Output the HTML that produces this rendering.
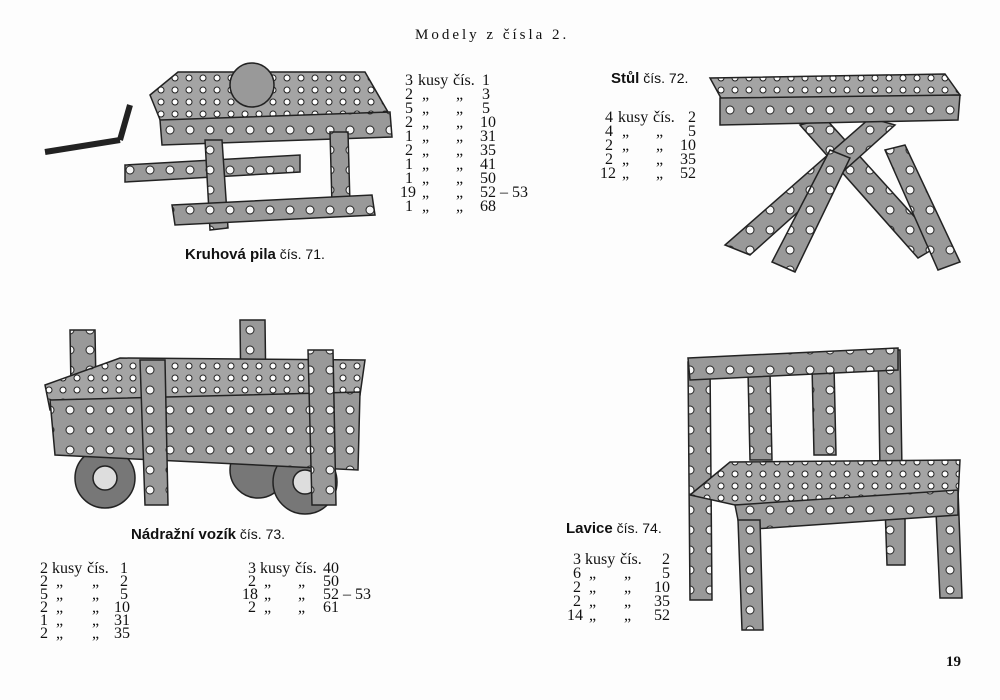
<!DOCTYPE html>
<html><head><meta charset="utf-8"><style>
body{margin:0;background:#fff}
#p{position:relative;width:1000px;height:700px;overflow:hidden;background:#fdfdfd;font-family:"Liberation Serif",serif;color:#111}
.t{position:absolute;font-size:15px;line-height:15px;white-space:nowrap}
.r{position:absolute;font-size:16px;line-height:15px;width:200px}
.r span{position:absolute;top:0;white-space:nowrap}
.c{font-family:"Liberation Sans",sans-serif;font-size:14px;position:absolute;white-space:nowrap}
.c b{font-size:15px}
svg{position:absolute;left:0;top:0}
</style></head><body><div id="p">
<svg width="1000" height="700">
<defs>
<pattern id="h" width="14" height="12" patternUnits="userSpaceOnUse"><rect width="14" height="12" fill="#a4a4a4"/><circle cx="7" cy="6" r="3" fill="#fff" stroke="#222" stroke-width="1"/></pattern>
<pattern id="s" width="20" height="20" patternUnits="userSpaceOnUse"><rect width="20" height="20" fill="#999"/><circle cx="10" cy="10" r="4" fill="#f4f4f4" stroke="#222"/></pattern>
</defs>
<g stroke="#222" stroke-width="1.5">
<line x1="45" y1="152" x2="120" y2="140" stroke-width="6"/>
<line x1="120" y1="140" x2="130" y2="105" stroke-width="6"/>
<polygon points="125,165 300,155 300,172 125,182" fill="url(#s)"/>
<polygon points="150,95 178,72 365,72 388,112 165,132" fill="url(#h)"/>
<polygon points="160,120 390,112 392,137 162,145" fill="url(#s)"/>
<circle cx="252" cy="85" r="22" fill="#999"/>
<polygon points="205,140 222,140 228,228 210,230" fill="url(#s)"/>
<polygon points="330,132 348,132 350,205 332,205" fill="url(#s)"/>
<polygon points="172,205 372,195 375,215 175,225" fill="url(#s)"/>
<polygon points="800,125 825,118 940,245 918,258" fill="url(#s)"/>
<polygon points="870,118 895,125 750,255 725,245" fill="url(#s)"/>
<polygon points="830,150 850,158 795,272 772,262" fill="url(#s)"/>
<polygon points="885,150 905,145 960,262 938,270" fill="url(#s)"/>
<polygon points="710,78 945,74 960,95 722,100" fill="url(#h)"/>
<polygon points="720,98 960,95 958,120 720,125" fill="url(#s)"/>
<polygon points="70,330 95,330 97,445 72,445" fill="url(#s)"/>
<polygon points="240,320 265,320 266,400 241,400" fill="url(#s)"/>
<circle cx="105" cy="478" r="30" fill="#777"/><circle cx="105" cy="478" r="12" fill="#ddd"/>
<circle cx="258" cy="470" r="28" fill="#777"/>
<circle cx="305" cy="482" r="32" fill="#777"/><circle cx="305" cy="482" r="12" fill="#ddd"/>
<polygon points="45,385 120,358 365,360 360,395 50,410" fill="url(#h)"/>
<polygon points="50,400 360,392 358,470 55,455" fill="url(#s)"/>
<polygon points="140,360 165,360 168,505 145,505" fill="url(#s)"/>
<polygon points="308,350 333,350 336,505 312,505" fill="url(#s)"/>
<polygon points="688,362 710,362 712,600 690,600" fill="url(#s)"/>
<polygon points="878,350 900,350 902,470 880,470" fill="url(#s)"/>
<polygon points="748,372 770,372 772,460 750,460" fill="url(#s)"/>
<polygon points="812,365 834,365 836,455 814,455" fill="url(#s)"/>
<polygon points="688,358 898,348 898,370 690,380" fill="url(#s)"/>
<polygon points="885,505 905,505 905,565 887,565" fill="url(#s)"/>
<polygon points="935,490 958,490 962,598 940,598" fill="url(#s)"/>
<polygon points="690,495 730,462 960,460 958,498 735,505" fill="url(#h)"/>
<polygon points="735,505 958,490 958,515 740,530" fill="url(#s)"/>
<polygon points="738,520 760,520 763,630 742,630" fill="url(#s)"/>
</g>
</svg>
<div class="t" style="left:415px;top:28px;font-size:15px;letter-spacing:3px">Modely z čísla 2.</div>

<div style="position:absolute;left:400px;top:73px">
<div class="r" style="top:0"><span style="left:5px">3</span><span style="left:18px">kusy</span><span style="left:53px">čís.</span><span style="left:82px">1</span></div>
<div class="r" style="top:14px"><span style="left:5px">2</span><span style="left:22px">„</span><span style="left:56px">„</span><span style="left:82px">3</span></div>
<div class="r" style="top:28px"><span style="left:5px">5</span><span style="left:22px">„</span><span style="left:56px">„</span><span style="left:82px">5</span></div>
<div class="r" style="top:42px"><span style="left:5px">2</span><span style="left:22px">„</span><span style="left:56px">„</span><span style="left:80px">10</span></div>
<div class="r" style="top:56px"><span style="left:5px">1</span><span style="left:22px">„</span><span style="left:56px">„</span><span style="left:80px">31</span></div>
<div class="r" style="top:70px"><span style="left:5px">2</span><span style="left:22px">„</span><span style="left:56px">„</span><span style="left:80px">35</span></div>
<div class="r" style="top:84px"><span style="left:5px">1</span><span style="left:22px">„</span><span style="left:56px">„</span><span style="left:80px">41</span></div>
<div class="r" style="top:98px"><span style="left:5px">1</span><span style="left:22px">„</span><span style="left:56px">„</span><span style="left:80px">50</span></div>
<div class="r" style="top:112px"><span style="left:0px">19</span><span style="left:22px">„</span><span style="left:56px">„</span><span style="left:80px">52 – 53</span></div>
<div class="r" style="top:126px"><span style="left:5px">1</span><span style="left:22px">„</span><span style="left:56px">„</span><span style="left:80px">68</span></div>
</div>

<div class="c" style="left:611px;top:70px"><b>Stůl</b> čís. 72.</div>
<div style="position:absolute;left:600px;top:110px">
<div class="r" style="top:0"><span style="left:5px">4</span><span style="left:18px">kusy</span><span style="left:53px">čís.</span><span style="left:88px">2</span></div>
<div class="r" style="top:14px"><span style="left:5px">4</span><span style="left:22px">„</span><span style="left:56px">„</span><span style="left:88px">5</span></div>
<div class="r" style="top:28px"><span style="left:5px">2</span><span style="left:22px">„</span><span style="left:56px">„</span><span style="left:80px">10</span></div>
<div class="r" style="top:42px"><span style="left:5px">2</span><span style="left:22px">„</span><span style="left:56px">„</span><span style="left:80px">35</span></div>
<div class="r" style="top:56px"><span style="left:0px">12</span><span style="left:22px">„</span><span style="left:56px">„</span><span style="left:80px">52</span></div>
</div>

<div class="c" style="left:185px;top:246px"><b>Kruhová pila</b> čís. 71.</div>
<div class="c" style="left:131px;top:526px"><b>Nádražní vozík</b> čís. 73.</div>

<div style="position:absolute;left:38px;top:561px">
<div class="r" style="top:0"><span style="left:2px">2</span><span style="left:14px">kusy</span><span style="left:49px">čís.</span><span style="left:82px">1</span></div>
<div class="r" style="top:13px"><span style="left:2px">2</span><span style="left:18px">„</span><span style="left:54px">„</span><span style="left:82px">2</span></div>
<div class="r" style="top:26px"><span style="left:2px">5</span><span style="left:18px">„</span><span style="left:54px">„</span><span style="left:82px">5</span></div>
<div class="r" style="top:39px"><span style="left:2px">2</span><span style="left:18px">„</span><span style="left:54px">„</span><span style="left:76px">10</span></div>
<div class="r" style="top:52px"><span style="left:2px">1</span><span style="left:18px">„</span><span style="left:54px">„</span><span style="left:76px">31</span></div>
<div class="r" style="top:65px"><span style="left:2px">2</span><span style="left:18px">„</span><span style="left:54px">„</span><span style="left:76px">35</span></div>
</div>
<div style="position:absolute;left:240px;top:561px">
<div class="r" style="top:0"><span style="left:8px">3</span><span style="left:20px">kusy</span><span style="left:55px">čís.</span><span style="left:83px">40</span></div>
<div class="r" style="top:13px"><span style="left:8px">2</span><span style="left:24px">„</span><span style="left:58px">„</span><span style="left:83px">50</span></div>
<div class="r" style="top:26px"><span style="left:2px">18</span><span style="left:24px">„</span><span style="left:58px">„</span><span style="left:83px">52 – 53</span></div>
<div class="r" style="top:39px"><span style="left:8px">2</span><span style="left:24px">„</span><span style="left:58px">„</span><span style="left:83px">61</span></div>
</div>

<div class="c" style="left:566px;top:520px"><b>Lavice</b> čís. 74.</div>
<div style="position:absolute;left:567px;top:552px">
<div class="r" style="top:0"><span style="left:6px">3</span><span style="left:18px">kusy</span><span style="left:53px">čís.</span><span style="left:95px">2</span></div>
<div class="r" style="top:14px"><span style="left:6px">6</span><span style="left:22px">„</span><span style="left:57px">„</span><span style="left:95px">5</span></div>
<div class="r" style="top:28px"><span style="left:6px">2</span><span style="left:22px">„</span><span style="left:57px">„</span><span style="left:87px">10</span></div>
<div class="r" style="top:42px"><span style="left:6px">2</span><span style="left:22px">„</span><span style="left:57px">„</span><span style="left:87px">35</span></div>
<div class="r" style="top:56px"><span style="left:0px">14</span><span style="left:22px">„</span><span style="left:57px">„</span><span style="left:87px">52</span></div>
</div>
<div class="t" style="left:946px;top:655px;font-weight:bold;font-size:15px">19</div>
</div></body></html>
